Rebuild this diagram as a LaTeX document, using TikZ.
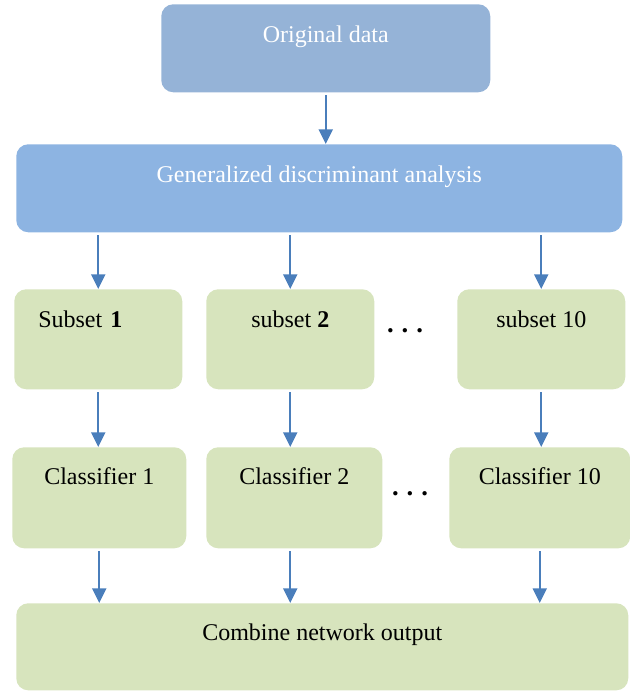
\documentclass[tikz,border=0pt]{standalone}
\usepackage{fontspec}
\setmainfont{Liberation Serif}
\usetikzlibrary{arrows.meta}
\definecolor{topblue}{RGB}{149,179,215}
\definecolor{gdablue}{RGB}{141,180,226}
\definecolor{boxgreen}{RGB}{215,228,189}
\definecolor{arrowblue}{RGB}{74,126,187}

\begin{document}
\begin{tikzpicture}[x=0.75pt,y=-0.75pt,
  box/.style={anchor=north west,rounded corners=9pt,inner sep=0pt,
    font=\fontsize{18}{21.6}\selectfont,align=center},
  bluebox/.style={box,text=white,text height=28.5pt,text depth=37.5pt},
  subsetbox/.style={box,fill=boxgreen,minimum width=126pt,text height=28.5pt,text depth=46.5pt},
  classbox/.style={box,fill=boxgreen,text height=27.9pt,text depth=47.9pt},
  arr/.style={draw=arrowblue,line width=1.5pt,shorten <=2pt,
    -{Triangle[width=10.5pt,length=11pt]}},
  dotsnode/.style={font=\fontsize{20}{20}\selectfont\bfseries}]
\useasboundingbox (0,0) rectangle (630,691);

\node[bluebox,fill=topblue,minimum width=246.75pt] (orig) at (161,4) {Original data};
\node[bluebox,fill=gdablue,minimum width=454.5pt] (gda) at (16,144) {Generalized discriminant analysis};

\node[subsetbox,align=left,text width=90pt,inner xsep=18pt] (s1) at (14,289) {Subset \textbf{1}};
\node[subsetbox] (s2) at (206,289) {subset \textbf{2}};
\node[subsetbox] (s10) at (457,289) {subset 10};
\node[dotsnode] (dotsA) at (405,331) {.\hspace{6pt}.\hspace{6pt}.};

\node[classbox,minimum width=130.5pt] (c1) at (12,447) {Classifier 1};
\node[classbox,minimum width=132pt] (c2) at (206,447) {Classifier 2};
\node[classbox,minimum width=135.75pt] (c10) at (449,447) {Classifier 10};
\node[dotsnode] (dotsB) at (410,494) {.\hspace{6pt}.\hspace{6pt}.};

\node[box,fill=boxgreen,minimum width=459pt,text height=27.9pt,text depth=37.4pt] (comb) at (16,603) {Combine network output};

\draw[arr] (orig.south) -- (orig.south |- gda.north);
\draw[arr] (gda.south -| s1.north) -- (s1.north);
\draw[arr] (gda.south -| s2.north) -- (s2.north);
\draw[arr] (gda.south -| s10.north) -- (s10.north);
\draw[arr] (s1.south) -- (s1.south |- c1.north);
\draw[arr] (s2.south) -- (s2.south |- c2.north);
\draw[arr] (s10.south) -- (s10.south |- c10.north);
\draw[arr] (c1.south) -- (c1.south |- comb.north);
\draw[arr] (c2.south -| s2.south) -- (s2.south |- comb.north);
\draw[arr] (c10.south) -- (c10.south |- comb.north);
\end{tikzpicture}
\end{document}
